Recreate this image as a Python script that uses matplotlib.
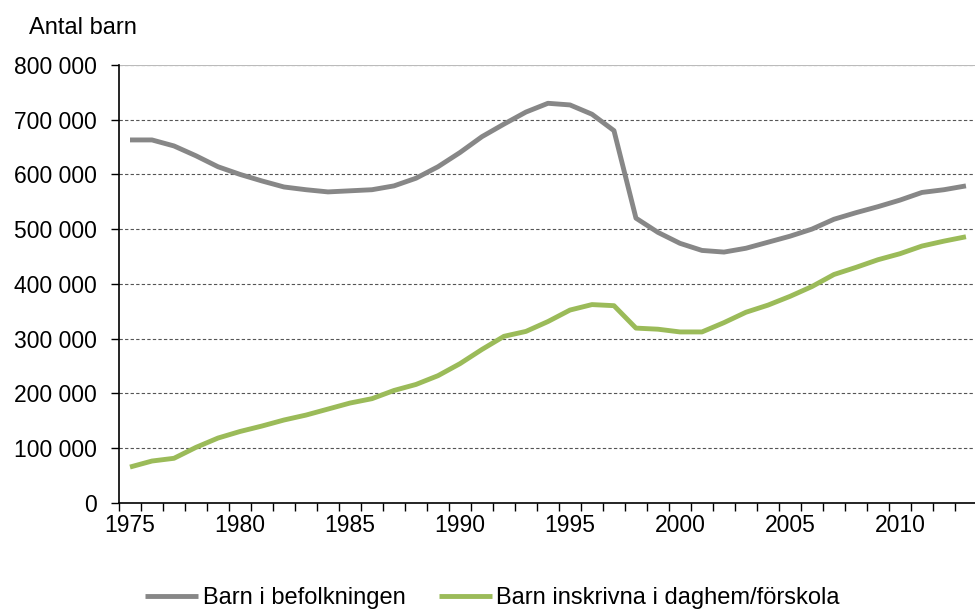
import numpy as np
import matplotlib.pyplot as plt
from matplotlib.ticker import FuncFormatter, MultipleLocator

plt.rcParams['font.family'] = ['Liberation Sans', 'DejaVu Sans']

years = list(range(1975, 2014))
befolkning = [663, 663, 652, 634, 614, 600, 588, 577, 572, 568,
              570, 572, 579, 593, 614, 640, 669, 692, 714, 730,
              727, 710, 680, 520, 494, 474, 461, 458, 465, 476,
              487, 500, 518, 530, 541, 553, 567, 572, 579]
inskrivna = [65, 76, 81, 101, 118, 130, 140, 151, 160, 171,
             182, 190, 205, 216, 232, 254, 280, 304, 313, 331,
             352, 362, 360, 319, 317, 312, 312, 329, 348, 361,
             377, 395, 417, 430, 444, 455, 469, 478, 486]
befolkning = [v * 1000 for v in befolkning]
inskrivna = [v * 1000 for v in inskrivna]

fig = plt.figure(figsize=(9.75, 6.1), dpi=100)
ax = fig.add_axes([119 / 975, 1 - 502.6 / 610, 1 - 119 / 975 + 0.002, (502.6 - 65) / 610])

ax.plot(years, befolkning, color='#878787', lw=3.5, label='Barn i befolkningen', solid_capstyle='butt')
ax.plot(years, inskrivna, color='#9bbb59', lw=3.5, label='Barn inskrivna i daghem/förskola', solid_capstyle='butt')

ax.set_xlim(1974.5, 2013.2)
ax.set_ylim(0, 800000)
ax.yaxis.set_major_locator(MultipleLocator(100000))
ax.yaxis.set_major_formatter(FuncFormatter(lambda v, p: '{:,.0f}'.format(v).replace(',', ' ')))
ax.set_xticks([1975, 1980, 1985, 1990, 1995, 2000, 2005, 2010])
ax.set_xticks(np.arange(1974.5, 2014, 1), minor=True)
ax.tick_params(axis='x', which='major', length=0, labelsize=16.5, pad=8)
ax.tick_params(axis='x', which='minor', length=6, width=1, direction='out')
ax.tick_params(axis='y', length=6, width=1, labelsize=16.5, pad=10)

ax.grid(axis='y', color='#555555', lw=0.8, ls=(0, (3, 2)))
ax.set_axisbelow(True)
for s in ['top', 'right']:
    ax.spines[s].set_visible(False)
ax.axhline(800000, color='#bbbbbb', lw=1.5, zorder=1)
ax.spines['left'].set_linewidth(1.2)
ax.spines['bottom'].set_linewidth(1.2)

fig.text(29 / 975, 1 - 28 / 610, 'Antal barn', fontsize=17, va='center', ha='left')

fig.legend(loc='center', bbox_to_anchor=(0.505, 1 - 598 / 610), ncol=2, frameon=False,
           fontsize=17, handlelength=2.25, columnspacing=1.4, handletextpad=0.2)

fig.savefig('out.png', dpi=100)
